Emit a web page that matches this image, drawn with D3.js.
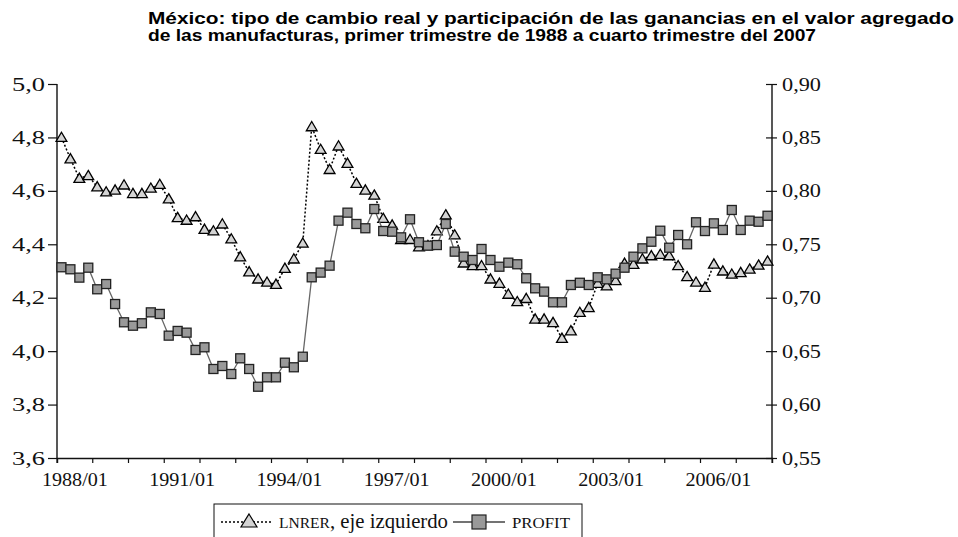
<!DOCTYPE html>
<html>
<head>
<meta charset="utf-8">
<script src="https://cdn.jsdelivr.net/npm/d3@7"></script>
<style>
  body { margin: 0; background: #fff; }
  svg { display: block; }
  .serif { font-family: "Liberation Serif", "DejaVu Serif", serif; }
</style>
</head>
<body>
<div id="chart"></div>
<script>
// Trimestres 1988/01 - 2007/04
const years = d3.range(1988, 2008);
const categories = years.flatMap(y => ['01', '02', '03', '04'].map(q => y + '/' + q));
const tickLabels = ['1988/01', '1991/01', '1994/01', '1997/01', '2000/01', '2003/01', '2006/01'];
const leftTicks = [3.6, 3.8, 4.0, 4.2, 4.4, 4.6, 4.8, 5.0];
const rightTicks = [0.55, 0.60, 0.65, 0.70, 0.75, 0.80, 0.85, 0.90];

// LNRER (eje izquierdo)
const lnrer = [
  4.80, 4.72, 4.647, 4.657, 4.615, 4.596, 4.603, 4.622, 4.59, 4.59,
  4.61, 4.624, 4.57, 4.50, 4.49, 4.503, 4.456, 4.45, 4.476, 4.42,
  4.353, 4.297, 4.27, 4.258, 4.25, 4.31, 4.345, 4.404, 4.84, 4.755,
  4.68, 4.768, 4.703, 4.628, 4.603, 4.584, 4.497, 4.472, 4.418, 4.418,
  4.39, 4.395, 4.45, 4.51, 4.435, 4.33, 4.32, 4.32, 4.27, 4.254,
  4.213, 4.185, 4.197, 4.12, 4.12, 4.107, 4.048, 4.076, 4.145, 4.163,
  4.254, 4.244, 4.264, 4.329, 4.325, 4.345, 4.357, 4.362, 4.357, 4.32,
  4.279, 4.258, 4.239, 4.326, 4.30, 4.288, 4.294, 4.307, 4.322, 4.337
];

// PROFIT (eje derecho)
const profit = [
  0.7285, 0.7266, 0.7188, 0.7281, 0.7079, 0.7128, 0.6941, 0.677, 0.6738, 0.6761,
  0.6863, 0.6848, 0.6645, 0.6689, 0.6673, 0.6511, 0.6536, 0.6333, 0.6361, 0.6286,
  0.6433, 0.6333, 0.6167, 0.6255, 0.6255, 0.6392, 0.6349, 0.6448, 0.7191, 0.7235,
  0.73, 0.7721, 0.7796, 0.769, 0.765, 0.783, 0.7624, 0.7618, 0.7565, 0.7734,
  0.7519, 0.7487, 0.7493, 0.769, 0.7431, 0.7384, 0.7353, 0.7456, 0.7353, 0.729,
  0.7328, 0.7313, 0.7182, 0.7088, 0.7057, 0.6957, 0.6957, 0.7119, 0.714, 0.7119,
  0.7191, 0.7172, 0.7225, 0.7281, 0.7384, 0.7462, 0.7524, 0.7627, 0.7468, 0.7587,
  0.75, 0.7706, 0.7624, 0.7696, 0.7634, 0.7821, 0.7634, 0.7721, 0.7711, 0.7767
];

const W = 958, H = 537;
const margin = { top: 84, right: 186, bottom: 79, left: 57 };
const width = W - margin.left - margin.right;
const height = H - margin.top - margin.bottom;

const sans = '"Liberation Sans", Arial, sans-serif';

const svg = d3.select('#chart').append('svg')
  .attr('width', W)
  .attr('height', H);

// ancho fijo para cada texto, como en la imagen original
function fitWidth(sel, w) {
  sel.attr('textLength', w).attr('lengthAdjust', 'spacingAndGlyphs');
}

// Titulo
const title = svg.append('g')
  .attr('font-family', sans)
  .attr('font-weight', 'bold')
  .attr('font-size', 16);
fitWidth(title.append('text').attr('x', 148).attr('y', 24)
  .text('México: tipo de cambio real y participación de las ganancias en el valor agregado'), 806);
fitWidth(title.append('text').attr('x', 148).attr('y', 41)
  .text('de las manufacturas, primer trimestre de 1988 a cuarto trimestre del 2007'), 668);

const g = svg.append('g')
  .attr('transform', 'translate(' + margin.left + ',' + margin.top + ')');

const x = d3.scaleBand()
  .domain(categories)
  .range([0, width]);
const xc = d => x(d) + x.bandwidth() / 2;

const yL = d3.scaleLinear().domain([3.6, 5.0]).range([height, 0]);
const yR = d3.scaleLinear().domain([0.55, 0.90]).range([height, 0]);

const fmt1 = d3.format('.1f');
const fmt2 = d3.format('.2f');

// Eje izquierdo
const axL = g.append('g')
  .call(d3.axisLeft(yL).tickValues(leftTicks).tickSize(9).tickPadding(3)
    .tickFormat(d => fmt1(d).replace('.', ',')));
// Eje derecho (marcas cruzadas)
const axR = g.append('g')
  .attr('transform', 'translate(' + width + ',0)')
  .call(d3.axisRight(yR).tickValues(rightTicks).tickSize(5).tickPadding(5)
    .tickFormat(d => fmt2(d).replace('.', ',')));
axR.selectAll('.tick line').attr('x1', -6);
// Eje inferior
const yearStarts = categories.filter((c, i) => i % 4 === 0);
const axB = g.append('g')
  .attr('transform', 'translate(0,' + height + ')')
  .call(d3.axisBottom(x).tickValues(yearStarts).tickSize(5).tickFormat(''));
axB.selectAll('.tick').attr('transform', d => 'translate(' + x(d) + ',0)');
axB.append('line').attr('x1', width).attr('x2', width).attr('y2', 5).attr('stroke', '#111');

[axL, axR, axB].forEach(a => {
  a.attr('font-family', null);
  a.select('.domain').attr('stroke', '#111').attr('stroke-width', 1.4);
  a.selectAll('.tick line').attr('stroke', '#111').attr('stroke-width', 1.2);
  a.selectAll('text').attr('class', 'serif').attr('font-size', 19).attr('fill', '#111');
});
axL.select('.domain').attr('d', 'M0,0V' + height);
axR.select('.domain').attr('d', 'M0,0V' + height);
fitWidth(axL.selectAll('text'), 33);
fitWidth(axR.selectAll('text'), 39);

// Etiquetas del eje x: centradas sobre el primer anio de cada grupo
const xLab = g.append('g')
  .attr('font-size', 19)
  .attr('fill', '#111')
  .attr('text-anchor', 'middle');
xLab.selectAll('text')
  .data(tickLabels)
  .enter()
  .append('text')
  .attr('class', 'serif')
  .attr('x', d => x(d) + 2 * x.bandwidth())
  .attr('y', height + 28)
  .text(d => d);
fitWidth(xLab.selectAll('text'), 66);

// Lineas
const lineL = d3.line().x((d, i) => xc(categories[i])).y(d => yL(d));
const lineR = d3.line().x((d, i) => xc(categories[i])).y(d => yR(d));

g.append('path')
  .datum(lnrer)
  .attr('d', lineL)
  .attr('fill', 'none')
  .attr('stroke', '#000')
  .attr('stroke-width', 1.5)
  .attr('stroke-dasharray', '2,2');

const triPath = 'M0,-5.2L5.4,4L-5.4,4Z';
g.append('g').selectAll('path')
  .data(lnrer)
  .enter()
  .append('path')
  .attr('d', triPath)
  .attr('transform', (d, i) => 'translate(' + xc(categories[i]) + ',' + yL(d) + ')')
  .attr('fill', '#d4d4d4')
  .attr('stroke', '#000')
  .attr('stroke-width', 1.3);

g.append('path')
  .datum(profit)
  .attr('d', lineR)
  .attr('fill', 'none')
  .attr('stroke', '#666')
  .attr('stroke-width', 1.3);

g.append('g').selectAll('rect')
  .data(profit)
  .enter()
  .append('rect')
  .attr('x', (d, i) => xc(categories[i]) - 4.5)
  .attr('y', d => yR(d) - 4.5)
  .attr('width', 9)
  .attr('height', 9)
  .attr('fill', '#999')
  .attr('stroke', '#222')
  .attr('stroke-width', 1.3);

// Leyenda
const leg = svg.append('g');
leg.append('rect')
  .attr('x', 214).attr('y', 504)
  .attr('width', 368).attr('height', 45)
  .attr('fill', '#fff')
  .attr('stroke', '#111')
  .attr('stroke-width', 1);
leg.append('line')
  .attr('x1', 221).attr('x2', 273).attr('y1', 522).attr('y2', 522)
  .attr('stroke', '#000').attr('stroke-width', 1.3).attr('stroke-dasharray', '2,2');
leg.append('path')
  .attr('d', 'M0,-7L8,6L-8,6Z')
  .attr('transform', 'translate(249,521)')
  .attr('fill', '#d4d4d4').attr('stroke', '#000').attr('stroke-width', 1.2);
const t1 = leg.append('text')
  .attr('class', 'serif')
  .attr('x', 279).attr('y', 528)
  .attr('fill', '#111');
t1.append('tspan').attr('font-size', 15).text('LNRER');
t1.append('tspan').attr('font-size', 20).text(', eje izquierdo');
fitWidth(t1, 169);

leg.append('line')
  .attr('x1', 453).attr('x2', 505).attr('y1', 522).attr('y2', 522)
  .attr('stroke', '#444').attr('stroke-width', 1.3);
leg.append('rect')
  .attr('x', 472).attr('y', 515).attr('width', 14).attr('height', 14)
  .attr('fill', '#999').attr('stroke', '#222').attr('stroke-width', 1.2);
fitWidth(leg.append('text')
  .attr('class', 'serif')
  .attr('x', 512).attr('y', 528)
  .attr('font-size', 15).attr('fill', '#111')
  .text('PROFIT'), 58);
</script>
</body>
</html>
